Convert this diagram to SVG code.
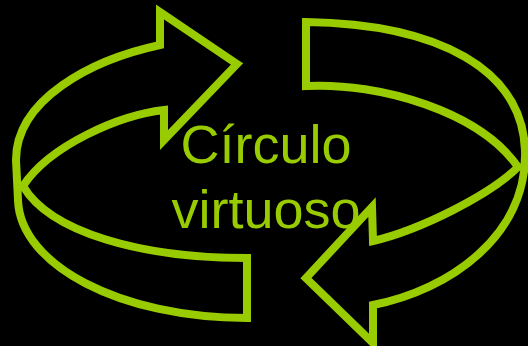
<svg xmlns="http://www.w3.org/2000/svg" width="528" height="346" viewBox="0 0 528 346">
  <style>
    .band { fill: none; stroke: #99cc00; stroke-width: 8; stroke-linejoin: miter; stroke-miterlimit: 10; }
    .label { fill: #99cc00; font-family: "Liberation Sans", Arial, sans-serif; font-size: 54px; text-anchor: middle; }
  </style>
  <rect x="0" y="0" width="528" height="346" fill="#000000"/>
  <g id="connectors">
    <path id="arrow-left" class="band" d="M237,64 L160,12 L160,45 C90,60 16,100 16,160 L18,200 C20,265 120,318 247,318 L247,258 C140,258 50,232 23,186 C50,145 120,115 164,110 L164,140 Z"/>
    <path id="arrow-right" class="band" d="M306,86 L306,22 C440,24 522,70 525,150 C528,235 450,290 373,305 L373,343 L306,278 L372,207 L373,241 C420,230 490,195 518,167 C480,112 380,82 306,86 Z"/>
  </g>
  <g id="label">
    <text class="label" x="266" y="163">Círculo</text>
    <text class="label" x="266" y="228">virtuoso</text>
  </g>
</svg>
